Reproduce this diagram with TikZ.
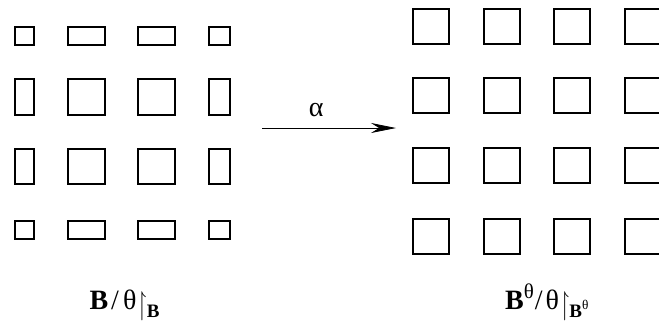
\documentclass[tikz,border=0pt]{standalone}
\usepackage{amssymb}
\usepackage{graphicx}
\usepackage{fontspec}
\setmainfont{Liberation Serif}
\usetikzlibrary{arrows.meta}

\newcommand{\restrto}{\kern1bp\raisebox{-0.19em}{\scalebox{0.8}[1.17]{$\upharpoonright$}}}
\newcommand{\lowpart}[1]{\raisebox{-8bp}{\fontsize{19bp}{19bp}\selectfont #1}}
\newcommand{\highpart}[1]{\raisebox{11bp}{\fontsize{21bp}{21bp}\selectfont #1}}

\begin{document}
\begin{tikzpicture}[x=1bp,y=-1bp,>={Stealth[length=25bp,width=10bp]},
  cell/.style={draw,line width=1.5bp,inner sep=0pt},
  lbl/.style={anchor=base,inner sep=0pt,font=\fontsize{28bp}{32bp}\selectfont}]
  \useasboundingbox (0,0) rectangle (659,320);
  \clip (0,0) rectangle (659,320);
  % left grid
  \foreach \i/\x/\w in {1/24.5/19,2/86.5/37,3/156.5/37,4/219.5/21}
  {
    \foreach \j/\y/\h in {1/36/18,2/97/36,3/166.5/35,4/230/18}
    {
      \node[cell,minimum width=\w bp,minimum height=\h bp] (l\i\j) at (\x,\y) {};
    }
  }
  % right grid
  \foreach \i/\x in {1/431,2/502,3/572,4/643}
  {
    \foreach \j/\y in {1/26.5,2/95.5,3/165.5,4/236.5}
    {
      \node[cell,minimum width=36bp,minimum height=35bp] (r\i\j) at (\x,\y) {};
    }
  }
  \coordinate (a0) at (262,128);
  \coordinate (a1) at (396,128);
  \draw[->,line width=0.8bp] (a0) -- node[pos=0.405,above=11bp,inner sep=0pt,font=\fontsize{28bp}{30bp}\selectfont] (alpha) {α} (a1);
  \node[lbl] (quot) at (124.5,309) {\textbf{B}\kern3bp/\kern4bp θ\restrto\lowpart{\textbf{B}}};
  \node[lbl] (quottheta) at (547,309) {\textbf{B}\highpart{θ}\kern1bp/\kern3bp θ\restrto\lowpart{\textbf{B}\textsuperscript{θ}}};
\end{tikzpicture}
\end{document}
